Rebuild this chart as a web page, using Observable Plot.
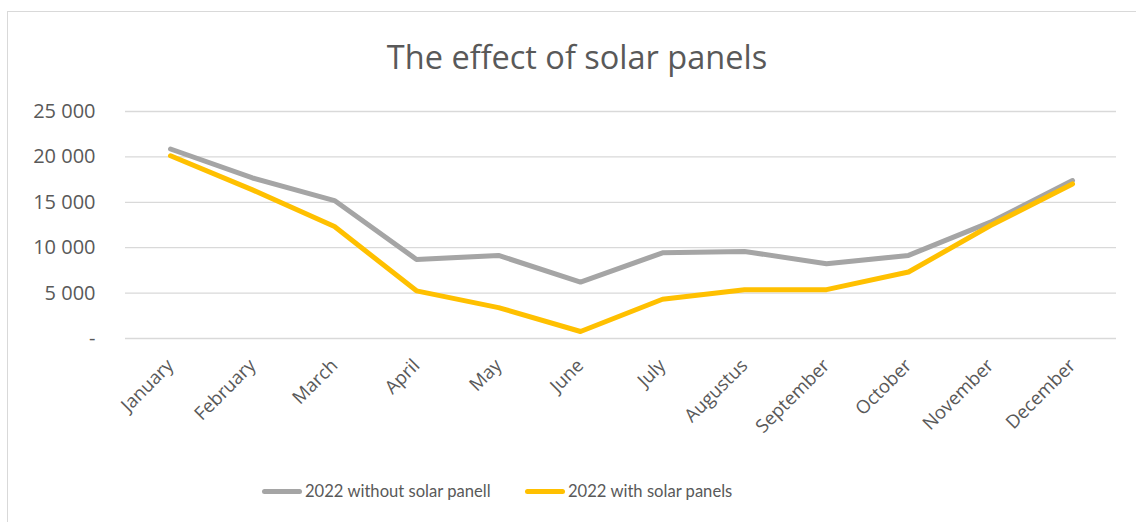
<!DOCTYPE html>
<html>
<head>
<meta charset="utf-8">
<script src="https://cdn.jsdelivr.net/npm/d3@7"></script>
<script src="https://cdn.jsdelivr.net/npm/@observablehq/plot@0.6"></script>
<style>
  html, body { margin: 0; padding: 0; background: #fff; }
  #wrap { position: relative; width: 1136px; height: 522px; overflow: hidden; font-family: "Open Sans", sans-serif; }
  #frame { position: absolute; left: 7px; top: 11px; width: 1140px; height: 520px; border: 1px solid #d9d9d9; box-sizing: border-box; }
  #title { position: absolute; left: 9px; width: 1136px; top: 34px; text-align: center; font-size: 32.5px; line-height: normal; color: #595959; font-family: "Open Sans", sans-serif; }
  #chart { position: absolute; left: 0; top: 90px; }
  #legend { position: absolute; top: 481px; left: 0; width: 1136px; font-family: "Lato", sans-serif; font-size: 16.6px; color: #595959; }
  .item { position: absolute; display: flex; align-items: center; }
  .sw { width: 40px; height: 5px; border-radius: 3px; margin-right: 3px; }
</style>
</head>
<body>
<div id="wrap">
  <div id="frame"></div>
  <div id="title">The effect of solar panels</div>
  <div id="chart"></div>
  <div id="legend"></div>
</div>
<script>
const months = ["January","February","March","April","May","June","July","Augustus","September","October","November","December"];
const withoutSolar = [20870, 17680, 15190, 8710, 9150, 6220, 9440, 9590, 8230, 9150, 12810, 17390];
const withSolar = [20130, 16370, 12330, 5250, 3400, 770, 4320, 5380, 5380, 7320, 12440, 17020];
const seriesNames = ["2022 without solar panell", "2022 with solar panels"];
const seriesColors = ["#A5A5A5", "#FFC000"];
const yTicks = [0, 5000, 10000, 15000, 20000, 25000];

const rows = [];
months.forEach((m, i) => {
  rows.push({month: m, value: withoutSolar[i], series: seriesNames[0]});
  rows.push({month: m, value: withSolar[i], series: seriesNames[1]});
});

const fmt = v => v === 0 ? "-" : d3.format(",")(v).replace(/,/g, "\u00a0");

const plot = Plot.plot({
  width: 1136,
  height: 358,
  marginTop: 21,
  marginBottom: 110,
  marginLeft: 125,
  marginRight: 20,
  style: {fontFamily: "'Open Sans', sans-serif", color: "#595959", background: "transparent"},
  x: {type: "band", domain: months, padding: 0, label: null},
  y: {domain: [0, 25000], label: null},
  marks: [
    Plot.gridY(yTicks, {stroke: "#d9d9d9", strokeOpacity: 1, strokeWidth: 1.3}),
    Plot.axisY(yTicks, {tickSize: 0, tickPadding: 30, tickFormat: fmt, fontSize: 20, fill: "#595959", label: null}),
    Plot.axisX({tickSize: 0, tickRotate: -45, tickPadding: 24, fontSize: 18.5, fill: "#595959", label: null}),
    Plot.line(rows, {x: "month", y: "value", z: "series", stroke: "series", strokeWidth: 5, strokeLinejoin: "round", strokeLinecap: "round"})
  ],
  color: {domain: seriesNames, range: seriesColors}
});
document.getElementById("chart").appendChild(plot);

const legend = document.getElementById("legend");
const lefts = [262, 525];
seriesNames.forEach((n, i) => {
  const it = document.createElement("div");
  it.className = "item";
  it.style.left = lefts[i] + "px";
  const sw = document.createElement("div");
  sw.className = "sw";
  sw.style.background = seriesColors[i];
  const t = document.createElement("span");
  t.textContent = n;
  it.appendChild(sw); it.appendChild(t);
  legend.appendChild(it);
});
</script>
</body>
</html>
